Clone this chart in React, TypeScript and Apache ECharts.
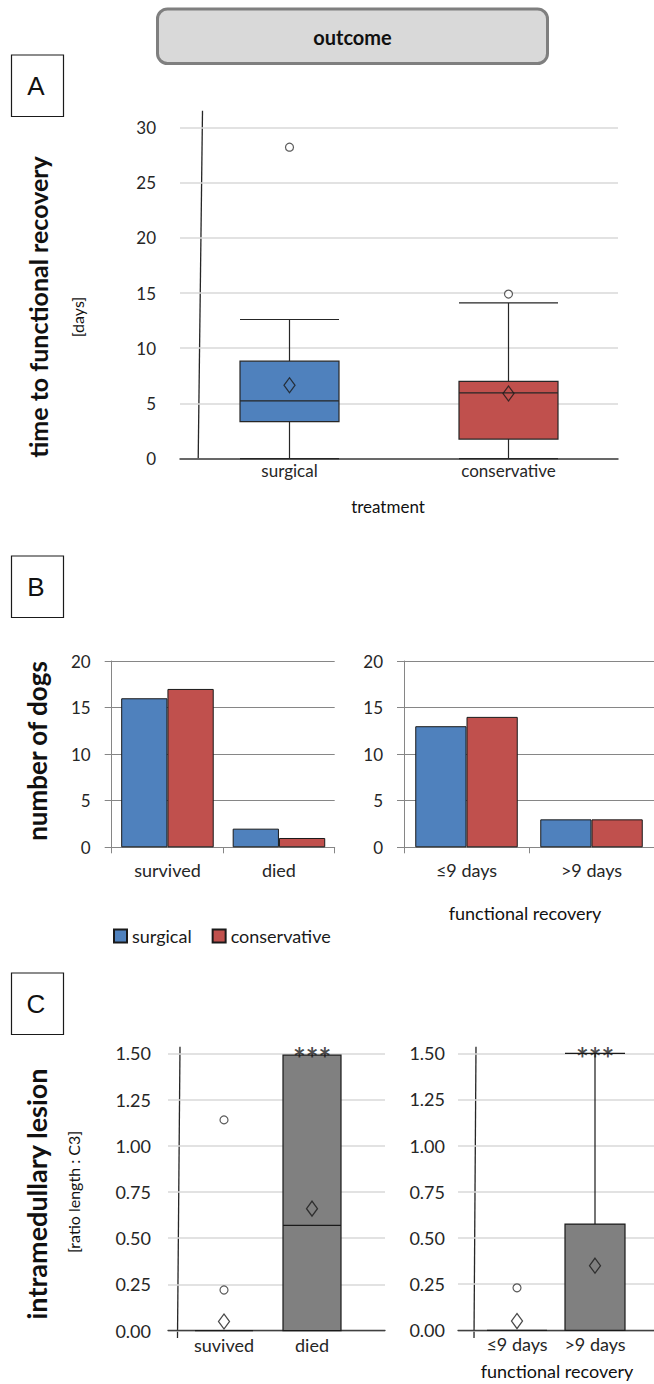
import React, { useEffect, useRef } from "react";
import * as echarts from "echarts";

// ---- Panel A: time to functional recovery (days) ----
const treatments = ["surgical", "conservative"];
// [min, Q1, median, Q3, max]
const recoveryBox = [
  [0, 3.36, 5.24, 8.83, 12.6],
  [0, 1.78, 5.95, 7.0, 14.1],
];
const recoveryMean = [6.65, 5.9];
const recoveryOutliers = [
  [0, 28.2],
  [1, 14.9],
];

// ---- Panel B: number of dogs ----
const outcomeCats = ["survived", "died"];
const outcomeSurgical = [16, 2];
const outcomeConservative = [17, 1];
const recoveryCats = ["≤9 days", ">9 days"];
const recoverySurgical = [13, 3];
const recoveryConservative = [14, 3];

// ---- Panel C: intramedullary lesion ratio ----
const lesionOutcomeCats = ["suvived", "died"];
const lesionOutcomeBox = [
  [0, 0, 0, 0, 0],
  [0, 0, 0.57, 1.49, 1.49],
];
const lesionOutcomeMean = [0.05, 0.66];
const lesionOutcomeOutliers = [
  [0, 1.14],
  [0, 0.22],
];
const lesionRecoveryCats = ["≤9 days", ">9 days"];
const lesionRecoveryBox = [
  [0, 0, 0, 0, 0],
  [0, 0, 0, 0.575, 1.5],
];
const lesionRecoveryMean = [0.05, 0.35];
const lesionRecoveryOutliers = [[0, 0.23]];
const significance = [[1, 1.5, "***"]];

const BLUE = "#4f81bd";
const RED = "#c0504d";
const GRAYBOX = "#808080";
const FONT = "Lato";

function txt(
  text: string,
  x: number,
  y: number,
  size: number,
  weight: string = "normal",
  rotate = false,
  family: string = FONT
) {
  return {
    type: "text",
    x,
    y,
    rotation: rotate ? Math.PI / 2 : 0,
    style: {
      text,
      fontSize: size,
      fontWeight: weight,
      fontFamily: family,
      fill: "#111",
      textAlign: "center",
      textVerticalAlign: "middle",
      align: "center",
      verticalAlign: "middle",
    },
  };
}
function letterBox(letter: string, y: number) {
  return [
    {
      type: "rect",
      shape: { x: 11.5, y, width: 52, height: 61.5 },
      style: { fill: "#fff", stroke: "#1a1a1a", lineWidth: 1.2 },
    },
    txt(letter, 36, y + 31, 26, "normal", false, "Liberation Sans"),
  ];
}

const tickLabel = (size: number, margin: number) => ({
  fontSize: size,
  color: "#262626",
  fontFamily: FONT,
  margin,
  interval: 0,
});

export default function App() {
  const ref = useRef<HTMLDivElement>(null);
  useEffect(() => {
    document.body.style.margin = "0";
    if (!ref.current) return;
    const chart = echarts.init(ref.current, null, { renderer: "svg" });

    const boxStyle = { borderColor: "#262626", borderWidth: 1.2 };
    const outlierStyle = { color: "#fff", borderColor: "#333", borderWidth: 1.2 };
    const meanStyle = { color: "rgba(0,0,0,0)", borderColor: "#1a1a1a", borderWidth: 1.3 };
    const barBorder = { borderColor: "#1a1a1a", borderWidth: 1 };
    const sigLabel = {
      show: true,
      position: "inside",
      offset: [0, 5],
      formatter: (p: any) => p.value[2],
      fontSize: 30,
      fontWeight: "bold",
      fontFamily: FONT,
      color: "#1a1a1a",
    };

    const option: any = {
      animation: false,
      textStyle: { fontFamily: FONT },
      legend: {
        data: ["surgical", "conservative"],
        left: 108,
        top: 922,
        icon: "rect",
        itemWidth: 13,
        itemHeight: 13,
        itemGap: 20,
        selectedMode: false,
        textStyle: { fontSize: 18, color: "#1a1a1a", fontFamily: FONT },
      },
      grid: [
        { left: 180, top: 127.3, width: 438, height: 331.4 },
        { left: 111.7, top: 661, width: 223, height: 186.3 },
        { left: 404, top: 661, width: 250, height: 186.3 },
        { left: 168, top: 1053.3, width: 217, height: 277.4 },
        { left: 180, top: 1053.3, width: 176, height: 277.4 },
        { left: 458, top: 1053.3, width: 196, height: 277 },
        { left: 478, top: 1053.3, width: 156, height: 277 },
      ],
      xAxis: [
        {
          gridIndex: 0,
          type: "category",
          data: treatments,
          axisLine: { lineStyle: { color: "#404040", width: 1.5 } },
          axisTick: { show: false },
          axisLabel: tickLabel(17, 3),
        },
        {
          gridIndex: 1,
          type: "category",
          data: outcomeCats,
          axisLine: { lineStyle: { color: "#868686" } },
          axisTick: { show: true, length: 6, lineStyle: { color: "#868686" } },
          axisLabel: tickLabel(18, 14),
        },
        {
          gridIndex: 2,
          type: "category",
          data: recoveryCats,
          axisLine: { lineStyle: { color: "#868686" } },
          axisTick: { show: true, length: 6, lineStyle: { color: "#868686" } },
          axisLabel: tickLabel(18, 14),
        },
        {
          gridIndex: 3,
          type: "value",
          min: 0,
          max: 1,
          axisLine: { show: true, lineStyle: { color: "#404040", width: 1.3 } },
          axisTick: { show: false },
          axisLabel: { show: false },
          splitLine: { show: false },
        },
        {
          gridIndex: 4,
          type: "category",
          data: lesionOutcomeCats,
          axisLine: { show: false },
          axisTick: { show: false },
          axisLabel: tickLabel(18, 5),
        },
        {
          gridIndex: 5,
          type: "value",
          min: 0,
          max: 1,
          axisLine: { show: true, lineStyle: { color: "#404040", width: 1.3 } },
          axisTick: { show: false },
          axisLabel: { show: false },
          splitLine: { show: false },
        },
        {
          gridIndex: 6,
          type: "category",
          data: lesionRecoveryCats,
          axisLine: { show: false },
          axisTick: { show: false },
          axisLabel: { ...tickLabel(18, 5), hideOverlap: false },
        },
      ],
      yAxis: [
        {
          gridIndex: 0,
          type: "value",
          min: 0,
          max: 30,
          interval: 5,
          axisLine: { show: false },
          axisTick: { show: false },
          axisLabel: tickLabel(17, 24),
          splitLine: { lineStyle: { color: "#d9d9d9", width: 1.5 } },
        },
        {
          gridIndex: 1,
          type: "value",
          min: 0,
          max: 20,
          interval: 5,
          axisLine: { show: true, lineStyle: { color: "#868686" } },
          axisTick: { show: true, length: 7, lineStyle: { color: "#868686" } },
          axisLabel: tickLabel(17, 21),
          splitLine: { lineStyle: { color: "#868686" } },
        },
        {
          gridIndex: 2,
          type: "value",
          min: 0,
          max: 20,
          interval: 5,
          axisLine: { show: true, lineStyle: { color: "#868686" } },
          axisTick: { show: true, length: 7, lineStyle: { color: "#868686" } },
          axisLabel: tickLabel(17, 21),
          splitLine: { lineStyle: { color: "#868686" } },
        },
        {
          gridIndex: 3,
          type: "value",
          min: 0,
          max: 1.5,
          interval: 0.25,
          axisLine: { show: false },
          axisTick: { show: false },
          axisLabel: { ...tickLabel(18, 17), formatter: (v: number) => v.toFixed(2) },
          splitLine: { lineStyle: { color: "#d9d9d9", width: 1.5 } },
        },
        { gridIndex: 4, type: "value", min: 0, max: 1.5, show: false },
        {
          gridIndex: 5,
          type: "value",
          min: 0,
          max: 1.5,
          interval: 0.25,
          axisLine: { show: false },
          axisTick: { show: false },
          axisLabel: { ...tickLabel(18, 13), formatter: (v: number) => v.toFixed(2) },
          splitLine: { lineStyle: { color: "#d9d9d9", width: 1.5 } },
        },
        { gridIndex: 6, type: "value", min: 0, max: 1.5, show: false },
      ],
      series: [
        // Panel A
        {
          type: "boxplot",
          xAxisIndex: 0,
          yAxisIndex: 0,
          boxWidth: [99, 99],
          itemStyle: boxStyle,
          data: recoveryBox.map((v, i) => ({
            value: v,
            itemStyle: { color: i === 0 ? BLUE : RED },
          })),
        },
        {
          type: "scatter",
          xAxisIndex: 0,
          yAxisIndex: 0,
          symbol: "circle",
          symbolSize: 8,
          itemStyle: outlierStyle,
          data: recoveryOutliers,
        },
        {
          type: "scatter",
          xAxisIndex: 0,
          yAxisIndex: 0,
          symbol: "diamond",
          symbolSize: [11, 15],
          itemStyle: meanStyle,
          data: recoveryMean.map((v, i) => [i, v]),
        },
        // Panel B
        {
          name: "surgical",
          type: "bar",
          xAxisIndex: 1,
          yAxisIndex: 1,
          barGap: "0%",
          barCategoryGap: "17%",
          itemStyle: { color: BLUE, ...barBorder },
          data: outcomeSurgical,
        },
        {
          name: "conservative",
          type: "bar",
          xAxisIndex: 1,
          yAxisIndex: 1,
          barGap: "0%",
          barCategoryGap: "17%",
          itemStyle: { color: RED, ...barBorder },
          data: outcomeConservative,
        },
        {
          name: "surgical",
          type: "bar",
          xAxisIndex: 2,
          yAxisIndex: 2,
          barGap: "0%",
          barCategoryGap: "18%",
          itemStyle: { color: BLUE, ...barBorder },
          data: recoverySurgical,
        },
        {
          name: "conservative",
          type: "bar",
          xAxisIndex: 2,
          yAxisIndex: 2,
          barGap: "0%",
          barCategoryGap: "18%",
          itemStyle: { color: RED, ...barBorder },
          data: recoveryConservative,
        },
        // Panel C left
        {
          type: "boxplot",
          xAxisIndex: 4,
          yAxisIndex: 4,
          boxWidth: [58, 58],
          itemStyle: { color: GRAYBOX, borderColor: "#1a1a1a", borderWidth: 1.2 },
          data: lesionOutcomeBox,
        },
        {
          type: "scatter",
          xAxisIndex: 4,
          yAxisIndex: 4,
          symbol: "circle",
          symbolSize: 8,
          itemStyle: outlierStyle,
          data: lesionOutcomeOutliers,
        },
        {
          type: "scatter",
          xAxisIndex: 4,
          yAxisIndex: 4,
          symbol: "diamond",
          symbolSize: [11, 15],
          itemStyle: meanStyle,
          data: lesionOutcomeMean.map((v, i) => [i, v]),
        },
        {
          type: "scatter",
          xAxisIndex: 4,
          yAxisIndex: 4,
          symbolSize: 1,
          z: 10,
          itemStyle: { color: "rgba(0,0,0,0)" },
          label: sigLabel,
          data: significance,
        },
        // Panel C right
        {
          type: "boxplot",
          xAxisIndex: 6,
          yAxisIndex: 6,
          boxWidth: [60, 60],
          itemStyle: { color: GRAYBOX, borderColor: "#1a1a1a", borderWidth: 1.2 },
          data: lesionRecoveryBox,
        },
        {
          type: "scatter",
          xAxisIndex: 6,
          yAxisIndex: 6,
          symbol: "circle",
          symbolSize: 8,
          itemStyle: outlierStyle,
          data: lesionRecoveryOutliers,
        },
        {
          type: "scatter",
          xAxisIndex: 6,
          yAxisIndex: 6,
          symbol: "diamond",
          symbolSize: [11, 15],
          itemStyle: meanStyle,
          data: lesionRecoveryMean.map((v, i) => [i, v]),
        },
        {
          type: "scatter",
          xAxisIndex: 6,
          yAxisIndex: 6,
          symbolSize: 1,
          z: 10,
          itemStyle: { color: "rgba(0,0,0,0)" },
          label: sigLabel,
          data: significance,
        },
      ],
      graphic: [
        {
          type: "rect",
          shape: { x: 157.5, y: 9, width: 390, height: 54.5, r: 10 },
          style: { fill: "#d9d9d9", stroke: "#7f7f7f", lineWidth: 3 },
        },
        txt("outcome", 352.5, 37, 20, "bold"),
        ...letterBox("A", 55),
        ...letterBox("B", 556),
        ...letterBox("C", 973),
        txt("time to functional recovery", 38, 307, 25, "bold", true),
        txt("[days]", 77, 317, 16, "normal", true),
        txt("number of dogs", 37, 751, 26, "bold", true),
        txt("intramedullary lesion", 36, 1194, 27, "bold", true),
        txt("[ratio length : C3]", 73, 1192, 16, "normal", true),
        txt("treatment", 388, 506, 17),
        txt("functional recovery", 525, 913, 18),
        txt("functional recovery", 557, 1371, 18),
        {
          type: "line",
          shape: { x1: 202.5, y1: 110.7, x2: 198.2, y2: 458.7 },
          style: { stroke: "#262626", lineWidth: 1.3 },
        },
        {
          type: "line",
          shape: { x1: 180, y1: 1046.7, x2: 177.5, y2: 1338 },
          style: { stroke: "#262626", lineWidth: 1.3 },
        },
        {
          type: "line",
          shape: { x1: 476, y1: 1046.7, x2: 474, y2: 1338 },
          style: { stroke: "#262626", lineWidth: 1.3 },
        },
      ],
    };
    chart.setOption(option);
    return () => chart.dispose();
  }, []);
  return <div ref={ref} style={{ width: 654, height: 1384 }} />;
}
